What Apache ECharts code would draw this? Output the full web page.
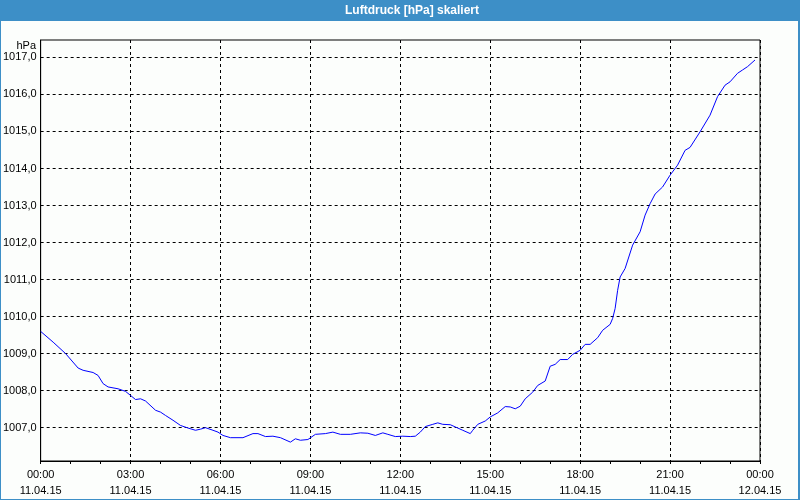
<!DOCTYPE html>
<html>
<head>
<meta charset="utf-8">
<script src="https://cdn.jsdelivr.net/npm/echarts@6/dist/echarts.min.js"></script>
<style>
html,body{margin:0;padding:0;background:#fcfefc;}
#chart{width:800px;height:500px;}
</style>
</head>
<body>
<div id="chart"></div>
<script>
// Tick labels
var yTickValues = [1007, 1008, 1009, 1010, 1011, 1012, 1013, 1014, 1015, 1016, 1017];
var xTickDates = ['11.04.15', '12.04.15'];
var titleText = 'Luftdruck [hPa] skaliert';
var unitText = 'hPa';

// Series: time of day (11.04.15) and pressure in hPa
var times = ['00:00','00:25','00:50','01:15','01:25','01:45','01:55','02:05','02:15','02:35','02:50',
  '03:00','03:10','03:20','03:30','03:50','04:00','04:10','04:25','04:40','04:55',
  '05:10','05:20','05:30','05:45','05:55','06:05','06:20','06:45','07:05','07:15','07:30','07:45',
  '08:00','08:20','08:30','08:40','08:55','09:10','09:30','09:45','10:00','10:20','10:40','10:55',
  '11:10','11:25','11:35','11:50','12:05','12:20','12:30','12:40','12:50','13:05','13:15','13:25',
  '13:40','13:50','14:05','14:20','14:25','14:35','14:50','15:00','15:15','15:30','15:40','15:50',
  '16:00','16:10','16:25','16:35','16:50','17:00','17:10','17:20','17:35','17:45','18:00','18:10',
  '18:20','18:35','18:45','19:00','19:05','19:10','19:15','19:20','19:30','19:45','20:00','20:10',
  '20:20','20:30','20:45','21:00','21:15','21:30','21:40','22:00','22:20','22:35','22:50','23:00',
  '23:15','23:25','23:35','23:50'];
var pressure = [1009.60,1009.31,1009.00,1008.61,1008.55,1008.49,1008.41,1008.19,1008.10,1008.05,1007.98,
  1007.87,1007.76,1007.78,1007.72,1007.47,1007.42,1007.33,1007.20,1007.06,1006.99,
  1006.93,1006.96,1007.00,1006.93,1006.88,1006.79,1006.73,1006.73,1006.84,1006.84,1006.76,1006.77,
  1006.73,1006.61,1006.70,1006.66,1006.68,1006.82,1006.84,1006.88,1006.82,1006.82,1006.86,1006.85,
  1006.79,1006.86,1006.82,1006.76,1006.77,1006.76,1006.77,1006.88,1007.03,1007.09,1007.13,1007.09,
  1007.08,1007.02,1006.93,1006.84,1006.93,1007.09,1007.18,1007.29,1007.40,1007.57,1007.56,1007.51,
  1007.58,1007.78,1007.96,1008.14,1008.26,1008.66,1008.71,1008.84,1008.84,1008.98,1009.09,1009.25,
  1009.25,1009.43,1009.63,1009.79,1009.95,1010.22,1010.71,1011.07,1011.30,1011.93,1012.29,1012.74,
  1013.05,1013.31,1013.50,1013.82,1014.09,1014.49,1014.57,1014.99,1015.44,1015.94,1016.25,1016.34,
  1016.57,1016.66,1016.75,1016.93];

function toMin(t){ var p = t.split(':'); return (+p[0]) * 60 + (+p[1]); }
var seriesData = times.map(function(t, i){ return [toMin(t), pressure[i]]; });

var font = 'Liberation Sans';
var chart = echarts.init(document.getElementById('chart'), null, {renderer: 'canvas'});
chart.setOption({
  backgroundColor: '#fcfefc',
  animation: false,
  grid: {left: 40, right: 40, top: 40, bottom: 39, show: true, borderColor: '#000', borderWidth: 1, backgroundColor: 'transparent'},
  graphic: [
    {type: 'rect', left: 0, top: 0, shape: {width: 800, height: 21}, style: {fill: '#3d8fc7'}, z: 10},
    {type: 'text', x: 412, y: 11, style: {text: titleText, fill: '#fff', font: 'bold 12px ' + font, textAlign: 'center', textVerticalAlign: 'middle'}, z: 11},
    {type: 'rect', left: 0, top: 0, shape: {width: 1, height: 500}, style: {fill: '#3d8fc7'}, z: 10},
    {type: 'rect', left: 798, top: 0, shape: {width: 2, height: 500}, style: {fill: '#3d8fc7'}, z: 10},
    {type: 'rect', left: 0, top: 499, shape: {width: 800, height: 1}, style: {fill: '#3d8fc7'}, z: 10},
    {type: 'text', x: 36, y: 46, style: {text: unitText, fill: '#000', font: '11px ' + font, textAlign: 'right', textVerticalAlign: 'middle'}, z: 11}
  ],
  xAxis: {
    type: 'value', min: 0, max: 1440, interval: 180,
    axisLine: {show: true, lineStyle: {color: '#000', width: 1}},
    axisTick: {show: true, length: 3, lineStyle: {color: '#000'}},
    minorTick: {show: true, splitNumber: 3, length: 3, lineStyle: {color: '#000'}},
    splitLine: {show: true, lineStyle: {color: '#000', type: [3, 3], width: 1}},
    axisLabel: {
      show: true, margin: 6, color: '#000', fontFamily: font, fontSize: 11, lineHeight: 16,
      showMinLabel: true, showMaxLabel: true,
      formatter: function(v){
        var day = v >= 1440 ? xTickDates[1] : xTickDates[0];
        var h = Math.floor((v % 1440) / 60);
        return (h < 10 ? '0' : '') + h + ':00\n' + day;
      }
    }
  },
  yAxis: {
    type: 'value', min: 1006.1, max: 1017.47,
    axisLine: {show: true, lineStyle: {color: '#000', width: 1}},
    axisTick: {show: false, customValues: yTickValues},
    splitLine: {show: true, lineStyle: {color: '#000', type: [3, 3], width: 1}},
    axisLabel: {
      show: true, margin: 4, color: '#000', fontFamily: font, fontSize: 11,
      customValues: yTickValues,
      formatter: function(v){ return v.toFixed(1).replace('.', ','); }
    }
  },
  series: [{
    type: 'line', data: seriesData, showSymbol: false, symbol: 'none',
    lineStyle: {color: '#0000ff', width: 1}, z: 5
  }]
});
</script>
</body>
</html>
